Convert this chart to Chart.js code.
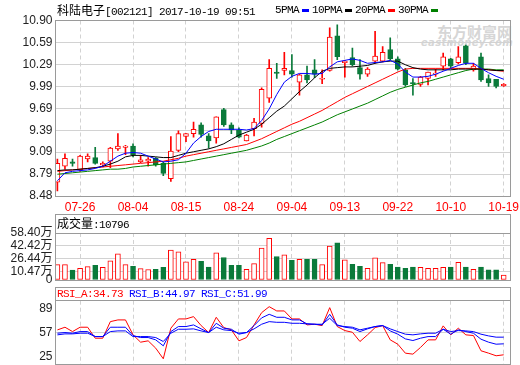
<!DOCTYPE html>
<html>
<head>
<meta charset="utf-8">
<script src="https://cdn.jsdelivr.net/npm/chart.js@4.4.0/dist/chart.umd.min.js"></script>
<style>
html, body { margin: 0; padding: 0; background: #fff; }
#wrap { position: relative; width: 520px; height: 365px; overflow: hidden; }
canvas { position: absolute; left: 0; z-index: 1; }
.t { position: absolute; white-space: nowrap; font-family: 'Liberation Mono', monospace; font-size: 11px;
     letter-spacing: -0.6px; line-height: 14px; color: #000; z-index: 2; }
.cjk { font-family: 'Noto Sans CJK SC', sans-serif; font-size: 12px; letter-spacing: 0; }
.dash { display: inline-block; width: 7px; height: 3px; margin: 0 3px; vertical-align: middle; }
.wm { position: absolute; z-index: 0; color: #d6d6d6; white-space: nowrap; }
</style>
</head>
<body>
<div id="wrap">
  <div class="wm" style="left:437px;top:21px;font:bold 15px 'Noto Sans CJK SC';">东方财富网</div>
  <div class="wm" style="left:421px;top:37px;font:italic bold 10px 'DejaVu Sans';letter-spacing:0.3px;">eastmoney.com</div>

  <canvas id="cMain" width="520" height="214" style="top:0"></canvas>
  <canvas id="cVol" width="520" height="73" style="top:214px"></canvas>
  <canvas id="cRsi" width="520" height="78" style="top:287px"></canvas>

  <div class="t" style="left:57px;top:3px;"><span class="cjk">科陆电子</span>[002121] 2017-10-19 09:51</div>
  <div class="t" style="left:275px;top:3px;">5PMA<span class="dash" style="background:#0000ff"></span>10PMA<span class="dash" style="background:#000"></span>20PMA<span class="dash" style="background:#ff0000"></span>30PMA<span class="dash" style="background:#008000"></span></div>
  <div class="t" style="left:57px;top:216px;"><span class="cjk">成交量</span>:10796</div>
  <div class="t" style="left:57px;top:287px;"><span style="color:#ff0000">RSI_A:34.73</span> <span style="color:#0000ff">RSI_B:44.97</span> <span style="color:#0000ff">RSI_C:51.99</span></div>
</div>

<script>
// ── DATA ──────────────────────────────────────────────────────────────────
const dates   = ['07-26', '08-04', '08-15', '08-24', '09-04', '09-13', '09-22', '10-10', '10-19'];
const dateIdx = [3, 10, 17, 24, 31, 38, 45, 52, 59];

const opens  = [8.67, 8.89, 8.95, 8.84, 8.99, 9.01, 8.91, 8.96, 9.13, 9.15,
                9.17, 8.95, 8.96, 9.00, 8.93, 8.72, 9.11, 9.30, 9.34, 9.46,
                9.31, 9.28, 9.67, 9.46, 9.39, 9.24, 9.41, 9.48, 9.83, 10.19,
                10.21, 10.21, 10.05, 10.15, 10.22, 10.09, 10.21, 10.69, 10.32, 10.39,
                10.25, 10.16, 10.34, 10.34, 10.50, 10.37, 10.22, 10.04, 10.02, 10.10,
                10.16, 10.27, 10.37, 10.32, 10.55, 10.22, 10.40, 10.10, 10.09, 10.00];
const highs  = [8.99, 9.06, 8.99, 9.04, 9.06, 9.15, 8.95, 9.15, 9.34, 9.18,
                9.20, 9.04, 9.01, 9.01, 8.95, 9.30, 9.38, 9.34, 9.50, 9.49,
                9.34, 9.57, 9.69, 9.49, 9.42, 9.33, 9.55, 9.97, 10.36, 10.31,
                10.46, 10.43, 10.16, 10.27, 10.36, 10.22, 10.80, 10.84, 10.35, 10.52,
                10.36, 10.25, 10.75, 10.54, 10.66, 10.40, 10.24, 10.10, 10.13, 10.19,
                10.23, 10.45, 10.38, 10.54, 10.56, 10.31, 10.45, 10.15, 10.09, 10.03];
const lows   = [8.55, 8.85, 8.89, 8.82, 8.95, 8.92, 8.88, 8.87, 9.11, 9.05,
                9.02, 8.94, 8.89, 8.89, 8.76, 8.68, 9.09, 9.23, 9.29, 9.29,
                9.14, 9.21, 9.44, 9.34, 9.28, 9.24, 9.31, 9.43, 9.77, 10.10,
                10.15, 10.12, 9.87, 10.04, 10.11, 10.03, 10.20, 10.36, 10.12, 10.27,
                10.09, 10.13, 10.31, 10.33, 10.36, 10.22, 9.99, 9.87, 9.99, 10.01,
                10.13, 10.22, 10.24, 10.30, 10.29, 10.20, 10.06, 9.99, 9.97, 9.99];
const closes = [8.93, 9.00, 8.93, 9.03, 9.03, 8.93, 8.93, 9.14, 9.17, 9.17,
                9.05, 8.98, 8.99, 8.91, 8.79, 9.10, 9.34, 9.34, 9.40, 9.33,
                9.24, 9.57, 9.46, 9.39, 9.29, 9.32, 9.50, 9.95, 10.24, 10.17,
                10.24, 10.16, 10.15, 10.08, 10.16, 10.10, 10.67, 10.40, 10.34, 10.29,
                10.16, 10.23, 10.41, 10.46, 10.37, 10.23, 10.01, 10.03, 10.12, 10.19,
                10.17, 10.40, 10.27, 10.40, 10.31, 10.27, 10.08, 10.04, 9.99, 10.02];

const ma5  = [8.69, 8.80, 8.82, 8.83, 8.84, 8.86, 8.89, 8.96, 9.03, 9.07,
              9.08, 9.07, 9.03, 8.99, 8.95, 8.96, 8.98, 9.07, 9.21, 9.30,
              9.37, 9.40, 9.40, 9.40, 9.40, 9.39, 9.41, 9.52, 9.68, 9.88,
              10.05, 10.13, 10.17, 10.17, 10.16, 10.17, 10.26, 10.33, 10.35, 10.37,
              10.35, 10.31, 10.32, 10.33, 10.35, 10.30, 10.19, 10.12, 10.12, 10.13,
              10.16, 10.20, 10.24, 10.28, 10.31, 10.31, 10.24, 10.18, 10.13, 10.09];
const ma10 = [8.83, 8.84, 8.84, 8.85, 8.86, 8.87, 8.89, 8.92, 8.96, 9.02,
              9.04, 9.04, 9.03, 9.02, 9.01, 9.01, 9.04, 9.07, 9.09, 9.11,
              9.13, 9.16, 9.20, 9.26, 9.32, 9.36, 9.40, 9.47, 9.56, 9.65,
              9.72, 9.82, 9.92, 10.01, 10.11, 10.20, 10.24, 10.25, 10.26, 10.26,
              10.27, 10.28, 10.31, 10.33, 10.34, 10.34, 10.29, 10.25, 10.23, 10.22,
              10.22, 10.22, 10.22, 10.23, 10.23, 10.23, 10.23, 10.22, 10.21, 10.21];
const ma20 = [8.82, 8.83, 8.84, 8.85, 8.86, 8.87, 8.88, 8.89, 8.90, 8.91,
              8.92, 8.93, 8.94, 8.95, 8.96, 8.98, 9.00, 9.03, 9.05, 9.07,
              9.09, 9.11, 9.13, 9.15, 9.17, 9.19, 9.23, 9.27, 9.32, 9.37,
              9.42, 9.47, 9.51, 9.56, 9.61, 9.66, 9.72, 9.78, 9.84, 9.89,
              9.94, 9.99, 10.04, 10.09, 10.14, 10.19, 10.23, 10.24, 10.24, 10.24,
              10.24, 10.24, 10.24, 10.24, 10.24, 10.24, 10.23, 10.22, 10.21, 10.20];
const ma30 = [8.78, 8.79, 8.80, 8.81, 8.82, 8.83, 8.84, 8.85, 8.85, 8.86,
              8.88, 8.89, 8.90, 8.91, 8.92, 8.93, 8.94, 8.95, 8.97, 8.99,
              9.01, 9.03, 9.05, 9.07, 9.09, 9.11, 9.14, 9.17, 9.21, 9.26,
              9.30, 9.34, 9.38, 9.42, 9.46, 9.50, 9.55, 9.60, 9.64, 9.68,
              9.72, 9.76, 9.81, 9.86, 9.91, 9.95, 9.98, 10.01, 10.04, 10.06,
              10.09, 10.12, 10.15, 10.18, 10.21, 10.23, 10.23, 10.23, 10.22, 10.22];

// volume in 万
const volumes = [19.1, 19.1, 12.2, 14.6, 16.6, 18.3, 15.8, 23.9, 32.4, 19.1,
                 17.0, 14.2, 13.0, 13.4, 15.8, 37.3, 34.9, 22.7, 25.6, 23.1,
                 16.2, 33.7, 28.0, 18.3, 18.3, 13.4, 20.3, 39.7, 51.9, 29.2,
                 31.2, 24.3, 25.6, 25.6, 25.6, 19.1, 42.2, 46.2, 25.1, 19.5,
                 17.0, 14.6, 27.6, 21.5, 19.5, 16.2, 14.6, 16.2, 15.8, 14.6,
                 14.6, 15.8, 16.2, 21.9, 16.2, 13.4, 16.2, 12.6, 12.6, 6.1];

const rsiA = [60.9, 64.5, 58.7, 64.5, 64.5, 49.8, 49.8, 72.0, 74.3, 74.3,
              54.3, 44.5, 46.3, 36.5, 22.3, 63.2, 75.6, 75.6, 78.7, 66.7,
              57.4, 77.8, 64.0, 61.0, 46.3, 50.7, 67.6, 84.0, 92.0, 86.3,
              86.3, 75.6, 75.6, 67.6, 68.5, 66.7, 90.7, 65.4, 60.0, 57.8,
              45.4, 54.3, 64.0, 66.7, 47.6, 41.8, 29.8, 28.5, 37.4, 47.6,
              47.6, 66.3, 54.3, 63.2, 54.3, 53.4, 33.0, 29.8, 26.3, 27.6];
const rsiB = [56.5, 57.4, 56.5, 58.7, 58.7, 52.0, 52.0, 64.5, 64.5, 64.5,
              53.4, 50.7, 50.7, 47.6, 39.6, 58.7, 65.4, 65.4, 67.6, 62.3,
              57.4, 69.8, 63.2, 61.8, 55.2, 57.4, 66.7, 77.0, 81.8, 77.8,
              77.8, 74.3, 74.3, 69.0, 68.5, 67.6, 81.8, 67.6, 64.5, 63.2,
              58.7, 62.3, 65.4, 66.7, 59.6, 55.2, 48.9, 46.7, 49.8, 52.0,
              52.0, 61.8, 55.2, 61.0, 58.7, 56.5, 48.5, 44.5, 41.8, 42.3];
const rsiC = [54.3, 55.6, 55.6, 56.5, 56.5, 52.0, 52.0, 58.7, 59.6, 59.6,
              52.0, 52.0, 52.0, 50.7, 45.4, 56.5, 61.8, 61.8, 62.3, 59.6,
              57.4, 64.5, 61.0, 60.0, 56.5, 57.4, 62.3, 68.5, 72.0, 71.1,
              71.1, 69.8, 69.8, 69.0, 68.5, 68.5, 76.5, 66.7, 65.4, 64.5,
              61.0, 63.2, 65.4, 66.7, 62.3, 58.7, 55.2, 54.3, 55.6, 56.5,
              56.5, 61.8, 58.7, 60.0, 59.6, 58.7, 55.2, 52.9, 51.2, 51.2];

const priceTicks  = [8.48, 8.7825, 9.085, 9.3875, 9.69, 9.9925, 10.295, 10.5975, 10.90];
const priceLabels = ['8.48', '8.79', '9.09', '9.39', '9.69', '9.99', '10.29', '10.59', '10.90'];
const volTicks    = [0, 10.47, 26.44, 42.42, 58.40];
const volLabels   = ['0', '10.47万', '26.44万', '42.42万', '58.40万'];
const rsiTicks    = [25, 57, 89];
const rsiLabels   = ['25', '57', '89'];

// ── STYLE ─────────────────────────────────────────────────────────────────
const FONT  = "'Liberation Sans', 'Noto Sans CJK SC', sans-serif";
const GRID  = '#d2d2d2';
const FRAME = '#9a9a9a';
const UP    = '#ff0000';
const DOWN  = '#0a7a3a';
const PAD   = { left: 0, right: 9.5 };

const idx   = closes.map((c, i) => i);
const isUp  = closes.map((c, i) => c >= opens[i]);
const line  = (arr) => arr.map((v, i) => ({ x: i, y: v }));

function makeFrame(titleBox) {
  return {
    id: 'frame',
    afterDraw(chart) {
      const ctx = chart.ctx, a = chart.chartArea;
      const l = Math.floor(a.left) + 0.5, r = Math.floor(a.right) + 0.5;
      const t = Math.floor(a.top) + 0.5,  b = Math.floor(a.bottom) + 0.5;
      ctx.save();
      ctx.strokeStyle = FRAME;
      ctx.lineWidth = 1;
      ctx.strokeRect(l, t, r - l, b - t);
      if (titleBox) ctx.strokeRect(l, 0.5, r - l, t - 0.5);
      ctx.restore();
    }
  };
}

function xScale(showLabels) {
  return {
    type: 'linear', min: -0.25, max: 59.9, offset: false,
    afterBuildTicks: s => { s.ticks = dateIdx.map(v => ({ value: v })); },
    afterFit: s => { s.height = showLabels ? 18 : 0; s.paddingLeft = 0; s.paddingRight = 0; },
    grid:   { color: GRID, drawTicks: false, offset: false },
    border: { display: false, dash: [4, 3] },
    ticks: {
      display: showLabels, autoSkip: false, maxRotation: 0, padding: 4,
      color: '#ff0000', font: { family: FONT, size: 12 },
      callback: (v, i) => dates[i]
    }
  };
}

function yScale(min, max, vals, labels, gridColor) {
  return {
    min: min, max: max,
    afterBuildTicks: s => { s.ticks = vals.map(v => ({ value: v })); },
    afterFit: s => { s.width = 55.5; s.paddingTop = 0; s.paddingBottom = 0; },
    grid:   { color: gridColor || GRID, drawTicks: false },
    border: { display: false },
    ticks: {
      autoSkip: false, padding: 3, color: '#222', font: { family: FONT, size: 12 },
      callback: (v, i) => labels[i]
    }
  };
}

const baseOpts = {
  responsive: false,
  animation: false,
  devicePixelRatio: 1,
  events: [],
  plugins: { legend: { display: false }, tooltip: { enabled: false } }
};

// ── MAIN: candles + MAs ───────────────────────────────────────────────────
function maLine(arr, color) {
  return { type: 'line', data: line(arr), borderColor: color, borderWidth: 1,
           pointRadius: 0, tension: 0, fill: false, order: 1 };
}

new Chart(document.getElementById('cMain'), {
  type: 'bar',
  data: {
    datasets: [
      {
        data: idx.map(i => ({ x: i, y: [lows[i], highs[i]] })),
        backgroundColor: isUp.map(u => u ? UP : DOWN),
        barThickness: 1, grouped: false, order: 3
      },
      {
        data: idx.map(i => ({ x: i, y: [opens[i], closes[i]] })),
        backgroundColor: isUp.map(u => u ? '#ffffff' : DOWN),
        borderColor:     isUp.map(u => u ? UP : DOWN),
        borderWidth: 1, borderSkipped: false, minBarLength: 1,
        barThickness: 5, grouped: false, order: 2
      },
      maLine(ma5,  '#0000ff'),
      maLine(ma10, '#000000'),
      maLine(ma20, '#ff0000'),
      maLine(ma30, '#008000')
    ]
  },
  options: Object.assign({}, baseOpts, {
    layout: { padding: { top: 20.5, bottom: 0, left: PAD.left, right: PAD.right } },
    scales: {
      x: xScale(true),
      y: yScale(8.48, 10.90, priceTicks, priceLabels)
    }
  }),
  plugins: [makeFrame(false)]
});

// ── VOLUME ────────────────────────────────────────────────────────────────
new Chart(document.getElementById('cVol'), {
  type: 'bar',
  data: {
    datasets: [{
      data: idx.map(i => ({ x: i, y: volumes[i] })),
      backgroundColor: isUp.map(u => u ? '#ffffff' : DOWN),
      borderColor:     isUp.map(u => u ? UP : DOWN),
      borderWidth: 1, borderSkipped: false,
      barThickness: 5, grouped: false
    }]
  },
  options: Object.assign({}, baseOpts, {
    layout: { padding: { top: 19, bottom: 7, left: PAD.left, right: PAD.right } },
    scales: {
      x: xScale(false),
      y: yScale(0, 58.40, volTicks, volLabels)
    }
  }),
  plugins: [makeFrame(true)]
});

// ── RSI ───────────────────────────────────────────────────────────────────
function rsiLine(arr, color) {
  return { data: line(arr), borderColor: color, borderWidth: 1, pointRadius: 0, tension: 0, fill: false };
}

new Chart(document.getElementById('cRsi'), {
  type: 'line',
  data: {
    datasets: [
      rsiLine(rsiC, '#0000ff'),
      rsiLine(rsiB, '#0000ff'),
      rsiLine(rsiA, '#ff0000')
    ]
  },
  options: Object.assign({}, baseOpts, {
    layout: { padding: { top: 13.7, bottom: 1, left: PAD.left, right: PAD.right } },
    scales: {
      x: xScale(false),
      y: yScale(15.3, 100, rsiTicks, rsiLabels,
                c => (c.tick && c.tick.value === 57) ? GRID : 'rgba(0,0,0,0)')
    }
  }),
  plugins: [makeFrame(true)]
});
</script>
</body>
</html>
